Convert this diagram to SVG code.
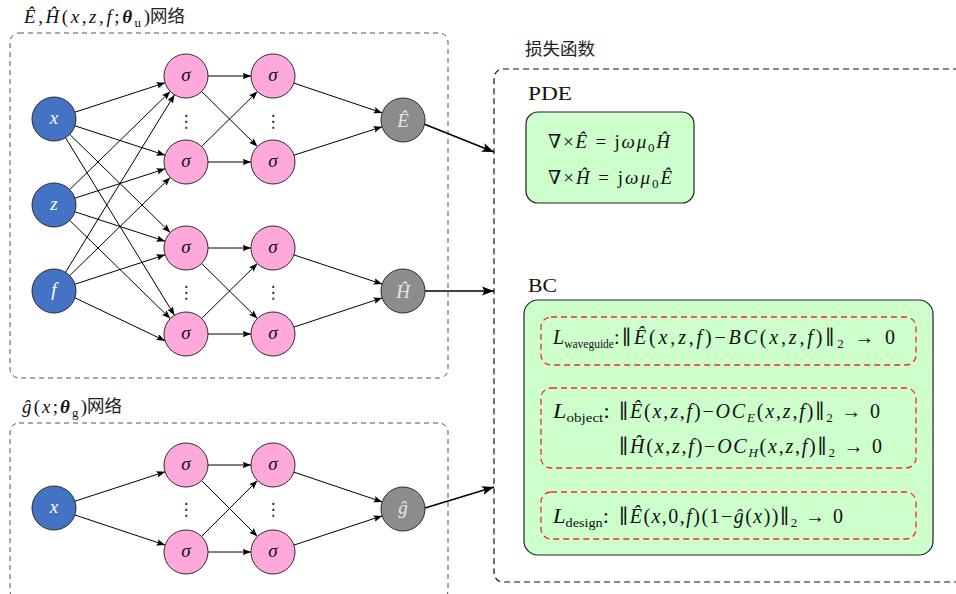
<svg xmlns="http://www.w3.org/2000/svg" width="956" height="594" viewBox="0 0 956 594">
<defs>
  <marker id="ah" markerWidth="9" markerHeight="7" refX="8.5" refY="3.25" orient="auto" markerUnits="userSpaceOnUse">
    <path d="M0,0 L8.5,3.25 L0,6.5 L1.5,3.25 z" fill="#000"/>
  </marker>
  <marker id="ahBig" markerWidth="13" markerHeight="10" refX="12" refY="5" orient="auto" markerUnits="userSpaceOnUse">
    <path d="M0,0.5 L12,5 L0,9.5 L2.5,5 z" fill="#000"/>
  </marker>
</defs>
<style>
  .in{fill:#4472c4;stroke:#2b2b2b;stroke-width:1}
  .hid{fill:#ffa8dc;stroke:#2b2b2b;stroke-width:1}
  .out{fill:#8c8c8c;stroke:#2b2b2b;stroke-width:1}
  .lbl{font-family:"Liberation Serif","DejaVu Serif",serif;font-style:italic;font-size:19px;text-anchor:middle}
  .w{fill:#ffffff}
  .gr{fill:#e6e6e6}
  .k{fill:#111}
  .edge{stroke:#000;stroke-width:1;fill:none;marker-end:url(#ah)}
  .feed{stroke:#000;stroke-width:1.6;fill:none;marker-end:url(#ahBig)}
  .net{fill:none;stroke:#555;stroke-width:1;stroke-dasharray:5 4}
  .loss{fill:none;stroke:#111;stroke-width:1.2;stroke-dasharray:6 4}
  .panel{fill:#ccffcc;stroke:#222;stroke-width:1.2}
  .term{fill:none;stroke:#ee2b2b;stroke-width:1.3;stroke-dasharray:6 4}
  .m{font-family:"Liberation Serif","DejaVu Serif",serif;font-size:19px;fill:#111}
  .e{font-size:20px}
  .i{font-style:italic}
  .nb{font-family:"DejaVu Serif",serif;font-style:normal;font-weight:normal}
  .cjk{font-family:"Noto Sans CJK SC",sans-serif;font-size:17.5px;fill:#222}
  .dots{font-family:"DejaVu Sans",sans-serif;font-size:17px;text-anchor:middle;fill:#222}
</style>

<!-- network frames -->
<g id="frame-uNet">
  <rect class="net" x="10" y="33" width="438" height="345" rx="9"/>
  <text class="m" x="24" y="23" textLength="126" lengthAdjust="spacing"><tspan class="i">Ê</tspan>,<tspan class="i">Ĥ</tspan>(<tspan class="i">x</tspan>,<tspan class="i">z</tspan>,<tspan class="i">f</tspan>;<tspan class="i" font-weight="bold">θ</tspan><tspan font-size="13" dy="4">u</tspan><tspan dy="-4">)</tspan></text>
  <text class="cjk" x="150" y="22">网络</text>
</g>
<g id="frame-gNet">
  <rect class="net" x="10" y="423" width="438" height="177" rx="9"/>
  <text class="m" x="22" y="413" textLength="65" lengthAdjust="spacing"><tspan class="i">ĝ</tspan>(<tspan class="i">x</tspan>;<tspan class="i" font-weight="bold">θ</tspan><tspan font-size="13" dy="4">g</tspan><tspan dy="-4">)</tspan></text>
  <text class="cjk" x="87" y="412">网络</text>
</g>

<!-- connectors -->
<g id="connectors">
  <!-- inputs to first hidden layer -->
  <line class="edge" x1="74.9" y1="112.2" x2="165.1" y2="82.8"/>
  <line class="edge" x1="74.9" y1="125.8" x2="165.1" y2="155.2"/>
  <line class="edge" x1="69.7" y1="134.4" x2="170.3" y2="232.6"/>
  <line class="edge" x1="65.5" y1="137.7" x2="174.5" y2="315.3"/>
  <line class="edge" x1="69.7" y1="189.6" x2="170.3" y2="91.4"/>
  <line class="edge" x1="74.9" y1="198.2" x2="165.1" y2="168.8"/>
  <line class="edge" x1="74.9" y1="211.8" x2="165.1" y2="241.2"/>
  <line class="edge" x1="69.7" y1="220.4" x2="170.3" y2="318.6"/>
  <line class="edge" x1="65.5" y1="272.3" x2="174.5" y2="94.7"/>
  <line class="edge" x1="69.7" y1="275.6" x2="170.3" y2="177.4"/>
  <line class="edge" x1="74.9" y1="284.2" x2="165.1" y2="254.8"/>
  <line class="edge" x1="74.9" y1="297.8" x2="165.1" y2="340.8"/>
  <!-- hidden to hidden -->
  <line class="edge" x1="208" y1="76" x2="251" y2="76"/>
  <line class="edge" x1="201.6" y1="91.5" x2="257.4" y2="146.5"/>
  <line class="edge" x1="201.6" y1="146.5" x2="257.4" y2="91.5"/>
  <line class="edge" x1="208" y1="162" x2="251" y2="162"/>
  <line class="edge" x1="208" y1="248" x2="251" y2="248"/>
  <line class="edge" x1="201.6" y1="263.5" x2="257.4" y2="318.5"/>
  <line class="edge" x1="201.6" y1="318.5" x2="257.4" y2="263.5"/>
  <line class="edge" x1="208" y1="334" x2="251" y2="334"/>
  <!-- hidden to outputs -->
  <line class="edge" x1="293.8" y1="83.1" x2="382.2" y2="112.9"/>
  <line class="edge" x1="293.9" y1="155.2" x2="382.1" y2="126.8"/>
  <line class="edge" x1="293.9" y1="254.9" x2="382.1" y2="284.1"/>
  <line class="edge" x1="293.9" y1="327.1" x2="382.1" y2="297.9"/>
  <!-- design network -->
  <line class="edge" x1="74.9" y1="501.2" x2="165.1" y2="471.8"/>
  <line class="edge" x1="74.9" y1="515" x2="165.1" y2="545"/>
  <line class="edge" x1="208" y1="465" x2="251" y2="465"/>
  <line class="edge" x1="201.6" y1="480.6" x2="257.4" y2="536.4"/>
  <line class="edge" x1="201.6" y1="536.4" x2="257.4" y2="480.6"/>
  <line class="edge" x1="208" y1="552" x2="251" y2="552"/>
  <line class="edge" x1="293.8" y1="472.1" x2="382.2" y2="501.9"/>
  <line class="edge" x1="293.9" y1="545.1" x2="382.1" y2="515.9"/>
  <!-- outputs into the loss -->
  <line class="feed" x1="424" y1="124" x2="494" y2="152"/>
  <line class="feed" x1="425" y1="291" x2="494" y2="291"/>
  <line class="feed" x1="425" y1="508" x2="494" y2="487"/>
</g>

<!-- field network nodes -->
<g id="in-x"><circle class="in" cx="54" cy="119" r="22"/><text class="lbl w" x="54" y="124">x</text></g>
<g id="in-z"><circle class="in" cx="54" cy="205" r="22"/><text class="lbl w" x="54" y="210">z</text></g>
<g id="in-f"><circle class="in" cx="54" cy="291" r="22"/><text class="lbl w" x="54" y="296">f</text></g>
<g id="h1-1"><circle class="hid" cx="186" cy="76" r="22"/><text class="lbl k" x="186" y="81">σ</text></g>
<g id="h1-2"><circle class="hid" cx="186" cy="162" r="22"/><text class="lbl k" x="186" y="167">σ</text></g>
<g id="h1-3"><circle class="hid" cx="186" cy="248" r="22"/><text class="lbl k" x="186" y="253">σ</text></g>
<g id="h1-4"><circle class="hid" cx="186" cy="334" r="22"/><text class="lbl k" x="186" y="339">σ</text></g>
<g id="h2-1"><circle class="hid" cx="273" cy="76" r="22"/><text class="lbl k" x="273" y="81">σ</text></g>
<g id="h2-2"><circle class="hid" cx="273" cy="162" r="22"/><text class="lbl k" x="273" y="167">σ</text></g>
<g id="h2-3"><circle class="hid" cx="273" cy="248" r="22"/><text class="lbl k" x="273" y="253">σ</text></g>
<g id="h2-4"><circle class="hid" cx="273" cy="334" r="22"/><text class="lbl k" x="273" y="339">σ</text></g>
<g id="out-E"><circle class="out" cx="403" cy="120" r="22"/><text class="lbl gr" x="403" y="127">Ê</text></g>
<g id="out-H"><circle class="out" cx="403" cy="291" r="22"/><text class="lbl gr" x="403" y="298">Ĥ</text></g>
<g id="dots-u">
  <text class="dots" x="186" y="127">⋮</text>
  <text class="dots" x="273" y="127">⋮</text>
  <text class="dots" x="186" y="298">⋮</text>
  <text class="dots" x="273" y="298">⋮</text>
</g>

<!-- design network nodes -->
<g id="g-in-x"><circle class="in" cx="54" cy="508" r="22"/><text class="lbl w" x="54" y="513">x</text></g>
<g id="g-h1-1"><circle class="hid" cx="186" cy="465" r="22"/><text class="lbl k" x="186" y="470">σ</text></g>
<g id="g-h1-2"><circle class="hid" cx="186" cy="552" r="22"/><text class="lbl k" x="186" y="557">σ</text></g>
<g id="g-h2-1"><circle class="hid" cx="273" cy="465" r="22"/><text class="lbl k" x="273" y="470">σ</text></g>
<g id="g-h2-2"><circle class="hid" cx="273" cy="552" r="22"/><text class="lbl k" x="273" y="557">σ</text></g>
<g id="out-g"><circle class="out" cx="403" cy="509" r="22"/><text class="lbl gr" x="403" y="514">ĝ</text></g>
<g id="dots-g">
  <text class="dots" x="186" y="515">⋮</text>
  <text class="dots" x="273" y="515">⋮</text>
</g>

<!-- loss function -->
<g id="loss">
  <text class="cjk" x="525" y="55" font-size="18">损失函数</text>
  <rect class="loss" x="494" y="69" width="480" height="513" rx="9"/>
</g>
<g id="pde">
  <text class="m" x="528" y="100" font-size="18" textLength="44" lengthAdjust="spacingAndGlyphs">PDE</text>
  <rect class="panel" x="526" y="112" width="168" height="91" rx="12"/>
  <text class="m" x="548" y="148" textLength="122" lengthAdjust="spacing">∇×<tspan class="i">Ê</tspan> = j<tspan class="i">ωμ</tspan><tspan font-size="13" dy="4">0</tspan><tspan class="i" dy="-4">Ĥ</tspan></text>
  <text class="m" x="548" y="184" textLength="124" lengthAdjust="spacing">∇×<tspan class="i">Ĥ</tspan> = j<tspan class="i">ωμ</tspan><tspan font-size="13" dy="4">0</tspan><tspan class="i" dy="-4">Ê</tspan></text>
</g>
<g id="bc">
  <text class="m" x="528" y="292" font-size="18" textLength="29" lengthAdjust="spacingAndGlyphs">BC</text>
  <rect class="panel" x="524" y="300" width="409" height="255" rx="14"/>
</g>
<g id="term-waveguide">
  <rect class="term" x="541" y="317" width="375" height="48" rx="10"/>
  <text class="m e" x="553" y="344"><tspan class="i">L</tspan><tspan font-size="11.5" dy="4">waveguide</tspan><tspan dy="-4">:</tspan></text>
  <text class="m e" x="622" y="344" textLength="273" lengthAdjust="spacing"><tspan class="nb">∥</tspan><tspan class="i">Ê</tspan>(<tspan class="i">x</tspan>,<tspan class="i">z</tspan>,<tspan class="i">f</tspan>)−<tspan class="i">BC</tspan>(<tspan class="i">x</tspan>,<tspan class="i">z</tspan>,<tspan class="i">f</tspan>)<tspan class="nb">∥</tspan><tspan font-size="13" dy="4">2</tspan><tspan dy="-4"> → 0</tspan></text>
</g>
<g id="term-object">
  <rect class="term" x="541" y="388" width="375" height="80" rx="10"/>
  <text class="m e" x="553" y="418" textLength="57" lengthAdjust="spacingAndGlyphs"><tspan class="i">L</tspan><tspan font-size="12.5" dy="4">object</tspan><tspan dy="-4">:</tspan></text>
  <text class="m e" x="619" y="418" textLength="261" lengthAdjust="spacing"><tspan class="nb">∥</tspan><tspan class="i">Ê</tspan>(<tspan class="i">x</tspan>,<tspan class="i">z</tspan>,<tspan class="i">f</tspan>)−<tspan class="i">OC</tspan><tspan class="i" font-size="13" dy="4">E</tspan><tspan dy="-4">(</tspan><tspan class="i">x</tspan>,<tspan class="i">z</tspan>,<tspan class="i">f</tspan>)<tspan class="nb">∥</tspan><tspan font-size="13" dy="4">2</tspan><tspan dy="-4"> → 0</tspan></text>
  <text class="m e" x="619" y="453" textLength="263" lengthAdjust="spacing"><tspan class="nb">∥</tspan><tspan class="i">Ĥ</tspan>(<tspan class="i">x</tspan>,<tspan class="i">z</tspan>,<tspan class="i">f</tspan>)−<tspan class="i">OC</tspan><tspan class="i" font-size="13" dy="4">H</tspan><tspan dy="-4">(</tspan><tspan class="i">x</tspan>,<tspan class="i">z</tspan>,<tspan class="i">f</tspan>)<tspan class="nb">∥</tspan><tspan font-size="13" dy="4">2</tspan><tspan dy="-4"> → 0</tspan></text>
</g>
<g id="term-design">
  <rect class="term" x="541" y="492" width="375" height="47" rx="10"/>
  <text class="m e" x="553" y="523" textLength="56" lengthAdjust="spacingAndGlyphs"><tspan class="i">L</tspan><tspan font-size="12.5" dy="4">design</tspan><tspan dy="-4">:</tspan></text>
  <text class="m e" x="619" y="523" textLength="224" lengthAdjust="spacing"><tspan class="nb">∥</tspan><tspan class="i">Ê</tspan>(<tspan class="i">x</tspan>,0,<tspan class="i">f</tspan>)(1−<tspan class="i">ĝ</tspan>(<tspan class="i">x</tspan>))<tspan class="nb">∥</tspan><tspan font-size="13" dy="4">2</tspan><tspan dy="-4"> → 0</tspan></text>
</g>
</svg>
